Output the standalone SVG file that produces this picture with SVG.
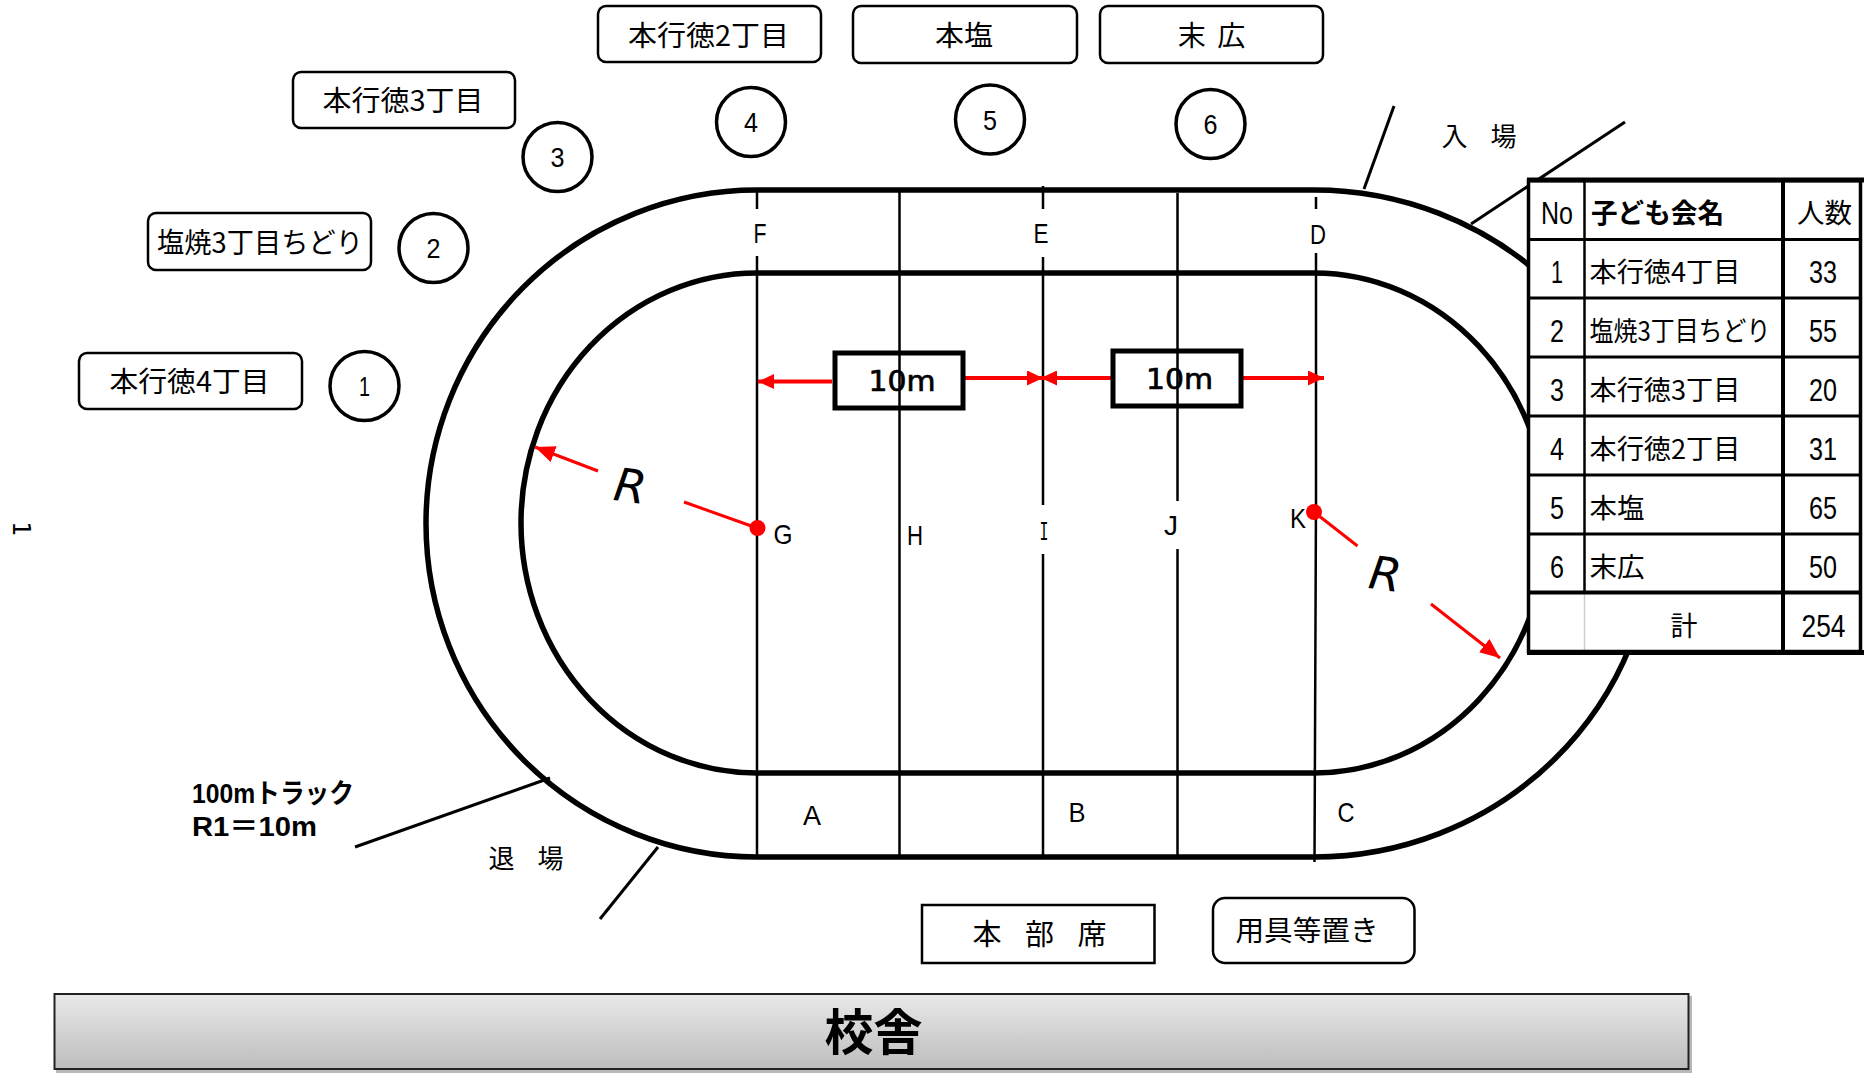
<svg xmlns="http://www.w3.org/2000/svg" width="1864" height="1073" viewBox="0 0 1864 1073">
<style>
text{font-family:"Noto Sans CJK JP","Liberation Sans",sans-serif;fill:#000;text-anchor:middle}
.box{fill:#fff;stroke:#000;stroke-width:2.5}
.circ{fill:#fff;stroke:#000;stroke-width:3.5}
.track{fill:none;stroke:#000;stroke-width:5.5}
.v{fill:none;stroke:#000;stroke-width:2.5}
.lead{fill:none;stroke:#000;stroke-width:3}
.red{fill:none;stroke:#f00;stroke-width:4}
.redt{fill:none;stroke:#f00;stroke-width:3}
.dot{fill:#f00}
.t28{font-size:28px}
.t27{font-size:27px}
.let{font-family:"Liberation Sans",sans-serif;font-size:28px}
.dig{font-family:"Liberation Sans",sans-serif;font-size:28px}
.tdig{font-family:"Liberation Sans",sans-serif;font-size:31px}
.m10{font-family:"DejaVu Sans",sans-serif;font-size:28px;stroke:#000;stroke-width:.7px}
.r{font-family:"DejaVu Sans",sans-serif;font-size:46px;font-style:italic}
.note{font-family:"Liberation Sans","Noto Sans CJK JP",sans-serif;font-size:27px;font-weight:700;text-anchor:start}
.grid{stroke:#000;fill:none}
.bold{font-weight:700}
</style>
<defs>
<linearGradient id="bld" x1="0" y1="0" x2="0" y2="1"><stop offset="0" stop-color="#e9e9e9"/><stop offset="1" stop-color="#bdbdbd"/></linearGradient>
<marker id="ah" markerUnits="userSpaceOnUse" markerWidth="17" markerHeight="15" refX="16" refY="7.5" orient="auto"><path d="M0 0L16 7.5L0 15Z" fill="#f00"/></marker>
<marker id="ah2" markerUnits="userSpaceOnUse" markerWidth="21" markerHeight="17" refX="20" refY="8.5" orient="auto"><path d="M0 0L20 8.5L0 17Z" fill="#f00"/></marker>
</defs>
<g id="track">
<path class="track" d="M757 190H1314A340 333.5 0 0 1 1314 857H757A331 333.5 0 0 1 757 190Z"/>
<path class="track" d="M757 273H1314A233 250 0 0 1 1314 773H757A236 250 0 0 1 757 273Z"/>
</g>
<g id="connectors">
<path class="v" d="M757 190V209M757 256V857"/>
<path class="v" d="M899.500 190V857"/>
<path class="v" d="M1043 186V209M1043 257V505M1043 554V857"/>
<path class="v" d="M1177.500 193V501M1177.500 549V857"/>
<path class="v" d="M1316 197V209M1316 253V500L1314.500 862"/>
<path class="lead" d="M1394 106L1364 189"/>
<path class="lead" d="M1625 122L1471 224"/>
<path class="lead" d="M355 847L550 778"/>
<path class="lead" d="M600 919L658 847"/>
<path class="red" marker-end="url(#ah)" d="M832 381.500H758"/>
<path class="red" marker-end="url(#ah)" d="M961 378H1043"/>
<path class="red" marker-end="url(#ah)" d="M1113 378H1041"/>
<path class="red" marker-end="url(#ah)" d="M1241 378H1324"/>
<path class="redt" marker-end="url(#ah2)" d="M598 471L535 447"/>
<path class="redt" d="M684 502L757 528"/>
<path class="redt" d="M1314 512L1357.500 546"/>
<path class="redt" marker-end="url(#ah2)" d="M1431 604L1500 658"/>
</g>
<g id="dots"><circle class="dot" cx="757.500" cy="528" r="8"/><circle class="dot" cx="1314" cy="512" r="8"/></g>
<g id="track-labels">
<text class="let" x="760" y="243" textLength="13" lengthAdjust="spacingAndGlyphs">F</text>
<text class="let" x="1041" y="243" textLength="15" lengthAdjust="spacingAndGlyphs">E</text>
<text class="let" x="1318" y="244" textLength="16" lengthAdjust="spacingAndGlyphs">D</text>
<text class="let" x="783" y="544" textLength="19" lengthAdjust="spacingAndGlyphs">G</text>
<text class="let" x="915" y="545" textLength="16" lengthAdjust="spacingAndGlyphs">H</text>
<text x="1044" y="540" style="font-family:'Liberation Mono',monospace;font-size:28px" textLength="9" lengthAdjust="spacingAndGlyphs">I</text>
<text class="let" x="1171" y="535" textLength="14" lengthAdjust="spacingAndGlyphs">J</text>
<text class="let" x="1298" y="528" textLength="16" lengthAdjust="spacingAndGlyphs">K</text>
<text class="let" x="812" y="825" textLength="18" lengthAdjust="spacingAndGlyphs">A</text>
<text class="let" x="1077" y="822" textLength="17" lengthAdjust="spacingAndGlyphs">B</text>
<text class="let" x="1346" y="822" textLength="17" lengthAdjust="spacingAndGlyphs">C</text>
<text class="r" transform="translate(628 502) rotate(8)">R</text>
<text class="r" transform="translate(1383 590) rotate(8)">R</text>
<text style="font-family:'DejaVu Sans',sans-serif;font-size:24px" transform="translate(13 529) rotate(90)">1</text>
<text class="t27" x="1479" y="146" style="font-size:26px;word-spacing:17px">入 場</text>
<text class="t27" x="526" y="868" style="font-size:26px;word-spacing:17px">退 場</text>
<text class="note" x="192" y="803" textLength="162" lengthAdjust="spacingAndGlyphs">100mトラック</text>
<text class="note" x="192" y="836" textLength="125" lengthAdjust="spacingAndGlyphs">R1＝10m</text>
</g>
<g id="node-hontoku4"><rect class="box" x="79" y="353" width="223" height="56" rx="8"/><text class="t28" x="189.500" y="392" textLength="160" lengthAdjust="spacingAndGlyphs">本行徳4丁目</text></g>
<g id="node-shioyaki3"><rect class="box" x="148" y="213" width="223" height="57" rx="8"/><text class="t28" x="260" y="253" textLength="206" lengthAdjust="spacingAndGlyphs">塩焼3丁目ちどり</text></g>
<g id="node-hontoku3"><rect class="box" x="293" y="72" width="222" height="56" rx="8"/><text class="t28" x="403" y="111" textLength="161" lengthAdjust="spacingAndGlyphs">本行徳3丁目</text></g>
<g id="node-hontoku2"><rect class="box" x="598" y="6" width="223" height="56" rx="8"/><text class="t28" x="708.500" y="46" textLength="161" lengthAdjust="spacingAndGlyphs">本行徳2丁目</text></g>
<g id="node-honshio"><rect class="box" x="853" y="6" width="224" height="57" rx="8"/><text class="t28" x="964" y="46" textLength="58" lengthAdjust="spacingAndGlyphs">本塩</text></g>
<g id="node-suehiro"><rect class="box" x="1100" y="6" width="223" height="57" rx="8"/><text class="t28" x="1211.500" y="46" style="word-spacing:5px">末 広</text></g>
<g id="node-c1"><circle class="circ" cx="364.500" cy="386" r="34.500"/><text class="dig" x="364.500" y="396" textLength="11" lengthAdjust="spacingAndGlyphs">1</text></g>
<g id="node-c2"><circle class="circ" cx="433.500" cy="248" r="34.500"/><text class="dig" x="433.500" y="258" textLength="14" lengthAdjust="spacingAndGlyphs">2</text></g>
<g id="node-c3"><circle class="circ" cx="557.500" cy="157" r="34.500"/><text class="dig" x="557.500" y="167" textLength="14" lengthAdjust="spacingAndGlyphs">3</text></g>
<g id="node-c4"><circle class="circ" cx="751" cy="122" r="34.500"/><text class="dig" x="751" y="132" textLength="14" lengthAdjust="spacingAndGlyphs">4</text></g>
<g id="node-c5"><circle class="circ" cx="990" cy="119.500" r="34.500"/><text class="dig" x="990" y="130" textLength="14" lengthAdjust="spacingAndGlyphs">5</text></g>
<g id="node-c6"><circle class="circ" cx="1210.500" cy="124" r="34.500"/><text class="dig" x="1210.500" y="134" textLength="14" lengthAdjust="spacingAndGlyphs">6</text></g>
<g id="node-10m-left"><rect x="835" y="353" width="128" height="55" fill="none" stroke="#000" stroke-width="5"/><text class="m10" x="902" y="391" textLength="67" lengthAdjust="spacingAndGlyphs">10m</text></g>
<g id="node-10m-right"><rect x="1113" y="351" width="128" height="55" fill="none" stroke="#000" stroke-width="5"/><text class="m10" x="1179.500" y="389" textLength="67" lengthAdjust="spacingAndGlyphs">10m</text></g>
<g id="node-honbu"><rect x="922" y="905" width="232.500" height="58" fill="#fff" stroke="#000" stroke-width="2.500"/><text x="1039.500" y="945" style="font-size:29px;word-spacing:17px">本 部 席</text></g>
<g id="node-yogu"><rect class="box" x="1213" y="898" width="201.500" height="65" rx="12"/><text class="t28" x="1307" y="941" textLength="143" lengthAdjust="spacingAndGlyphs">用具等置き</text></g>
<g id="node-school"><rect x="56" y="996" width="1636" height="77" fill="#888" opacity=".6"/><rect x="54.500" y="994" width="1634" height="75" fill="url(#bld)" stroke="#222" stroke-width="2"/><text class="bold" x="873.500" y="1050" style="font-size:49px">校舎</text></g>
<g id="table">
<rect x="1528" y="180" width="336" height="475" fill="#fff"/>
<path class="grid" stroke-width="3" d="M1529 239.500H1860M1529 298H1860M1529 357H1860M1529 416H1860M1529 475H1860M1529 534H1860"/>
<path class="grid" stroke-width="2.500" d="M1584.500 181V592"/>
<path d="M1584.500 594V651" stroke="#ccc" stroke-width="1.500"/>
<path class="grid" stroke-width="4" d="M1783 181V651M1529 592.500H1860"/>
<rect class="grid" x="1528.500" y="180.500" width="332" height="471" stroke-width="3.500"/>
<path class="grid" stroke-width="5" d="M1527 652.500H1864M1527 180H1864"/>
<text x="1557" y="224" class="tdig" textLength="32" lengthAdjust="spacingAndGlyphs">No</text>
<text x="1657.500" y="223" class="bold" style="font-size:27px" textLength="133" lengthAdjust="spacingAndGlyphs">子ども会名</text>
<text x="1824.500" y="223" class="t27" textLength="55" lengthAdjust="spacingAndGlyphs">人数</text>
<text x="1557" y="283" class="tdig" textLength="12" lengthAdjust="spacingAndGlyphs">1</text><text x="1665" y="282" class="t27" textLength="151" lengthAdjust="spacingAndGlyphs">本行徳4丁目</text><text x="1823" y="283" class="tdig" textLength="28" lengthAdjust="spacingAndGlyphs">33</text>
<text x="1557" y="342" class="tdig" textLength="14" lengthAdjust="spacingAndGlyphs">2</text><text x="1680" y="341" class="t27" textLength="181" lengthAdjust="spacingAndGlyphs">塩焼3丁目ちどり</text><text x="1823" y="342" class="tdig" textLength="28" lengthAdjust="spacingAndGlyphs">55</text>
<text x="1557" y="401" class="tdig" textLength="14" lengthAdjust="spacingAndGlyphs">3</text><text x="1665" y="400" class="t27" textLength="151" lengthAdjust="spacingAndGlyphs">本行徳3丁目</text><text x="1823" y="401" class="tdig" textLength="28" lengthAdjust="spacingAndGlyphs">20</text>
<text x="1557" y="460" class="tdig" textLength="14" lengthAdjust="spacingAndGlyphs">4</text><text x="1665" y="459" class="t27" textLength="151" lengthAdjust="spacingAndGlyphs">本行徳2丁目</text><text x="1823" y="460" class="tdig" textLength="28" lengthAdjust="spacingAndGlyphs">31</text>
<text x="1557" y="519" class="tdig" textLength="14" lengthAdjust="spacingAndGlyphs">5</text><text x="1617" y="518" class="t27" textLength="55" lengthAdjust="spacingAndGlyphs">本塩</text><text x="1823" y="519" class="tdig" textLength="28" lengthAdjust="spacingAndGlyphs">65</text>
<text x="1557" y="578" class="tdig" textLength="14" lengthAdjust="spacingAndGlyphs">6</text><text x="1617" y="577" class="t27" textLength="55" lengthAdjust="spacingAndGlyphs">末広</text><text x="1823" y="578" class="tdig" textLength="28" lengthAdjust="spacingAndGlyphs">50</text>
<text x="1684" y="636" class="t27">計</text><text x="1823.500" y="637" class="tdig" textLength="44" lengthAdjust="spacingAndGlyphs">254</text>
</g>
</svg>
